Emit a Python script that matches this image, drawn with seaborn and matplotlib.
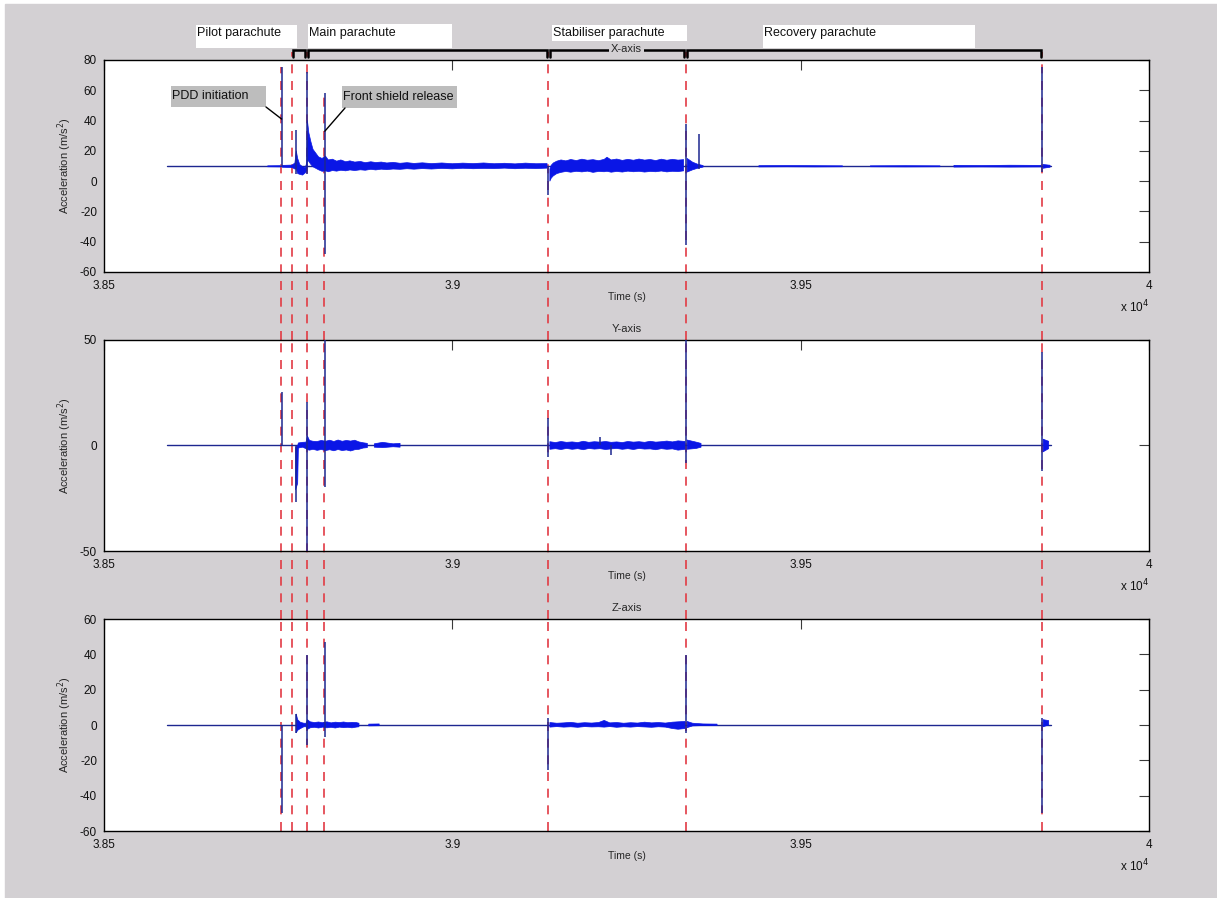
import numpy as np
import matplotlib
matplotlib.use("Agg")
import matplotlib.pyplot as plt
import seaborn as sns
from matplotlib.patches import Rectangle

nan = np.nan

# ---------------------------------------------------------------- data
t_start, t_end = 38590, 39860                      # recording span (s)
events = [38754, 38770, 38791, 38816, 39138, 39335, 39847]

phase_labels = ["Pilot parachute", "Main parachute",
                "Stabiliser parachute", "Recovery parachute"]
phase_bounds = [(38770, 38791), (38791, 39138), (39138, 39335), (39335, 39847)]

x_ticks = [38500, 39000, 39500, 40000]
x_tick_labels = ["3.85", "3.9", "3.95", "4"]

# X-axis channel: baseline, noise envelope (NaN separates bursts), spikes
x_base = 9.8
x_band_t = [38735, 38753, nan,
            38756, 38770, 38774, 38776, 38778, 38781, 38785, 38789, 38791,
            38792, 38794, 38797, 38800, 38804, 38808, 38813, 38818, 38822,
            38828, 38834, 38840, 38847, 38853, 38860, 38868, 38875, 38883,
            38890, 38898, 38906, 38915, 38925, 38935, 38945, 38957, 38970,
            38985, 39000, 39015, 39030, 39045, 39060, 39075, 39090, 39105,
            39120, 39136, nan,
            39140, 39142, 39145, 39150, 39156, 39163, 39170, 39178, 39186,
            39194, 39202, 39210, 39218, 39222, 39228, 39236, 39244, 39252,
            39260, 39268, 39276, 39284, 39292, 39300, 39308, 39316, 39324,
            39332, nan,
            39337, 39345, 39352, 39360, nan,
            39440, 39480, 39520, 39560, nan,
            39600, 39650, 39700, nan,
            39720, 39760, 39800, 39845, nan,
            39848, 39858]
x_band_lo = [9.5, 9.4, nan,
             9.2, 9.0, 8.0, 8.0, 5.0, 4.5, 4.0, 5.5, 7.0,
             14.0, 13.0, 11.0, 9.5, 8.5, 7.5, 6.5, 6.8, 6.2,
             7.0, 6.6, 7.2, 6.8, 7.4, 7.0, 7.5, 7.2, 7.8,
             7.4, 7.9, 7.6, 8.0, 7.8, 8.2, 7.9, 8.3, 8.0,
             8.4, 8.1, 8.5, 8.2, 8.4, 8.3, 8.6, 8.2, 8.5,
             8.3, 8.6, nan,
             0.0, 2.0, 3.5, 5.0, 5.8, 6.4, 5.9, 6.5, 6.1,
             6.6, 5.8, 6.4, 6.2, 6.5, 5.9, 6.4, 6.0, 6.6,
             6.2, 6.5, 6.0, 6.4, 6.2, 6.7, 6.1, 6.5, 6.3,
             6.8, nan,
             6.0, 7.5, 8.5, 9.3, nan,
             9.4, 9.5, 9.4, 9.5, nan,
             9.5, 9.4, 9.5, nan,
             9.3, 9.4, 9.3, 9.4, nan,
             8.5, 9.2]
x_band_hi = [10.1, 10.2, nan,
             10.4, 10.6, 12.0, 20.0, 15.0, 11.0, 9.5, 9.0, 12.0,
             40.0, 32.0, 26.0, 21.0, 18.5, 16.0, 15.0, 16.5, 14.0,
             14.5, 13.2, 14.0, 12.8, 13.4, 12.6, 13.0, 12.2, 12.8,
             12.3, 12.6, 12.0, 12.4, 11.8, 12.2, 11.7, 12.1, 11.6,
             12.0, 11.5, 11.9, 11.6, 12.0, 11.5, 11.8, 11.4, 11.9,
             11.5, 11.6, nan,
             8.0, 10.5, 12.0, 13.2, 14.0, 13.4, 14.3, 13.6, 14.5,
             13.8, 14.2, 13.5, 14.4, 15.8, 14.0, 14.6, 13.7, 14.4,
             13.8, 14.6, 13.9, 14.3, 13.6, 14.5, 13.8, 14.4, 13.9,
             14.2, nan,
             15.0, 12.5, 11.2, 10.3, nan,
             10.2, 10.3, 10.2, 10.1, nan,
             10.1, 10.2, 10.1, nan,
             10.4, 10.3, 10.5, 10.4, nan,
             11.0, 10.5]
x_spike_t = [38755, 38776, 38791, 38817, 39138, 39336, 39354, 39846]
x_spike_lo = [9.8, 5.0, 5.0, -48.0, -9.0, -42.0, 8.0, 6.0]
x_spike_hi = [75.6, 34.0, 72.0, 58.0, 10.0, 38.0, 31.0, 75.6]

# Y-axis channel
y_base = 0.0
y_band_t = [38775, 38778, 38779, 38785, 38790,
            38792, 38795, 38800, 38806, 38812, 38818, 38824, 38830, 38836,
            38842, 38848, 38854, 38860, 38866, 38872, 38878, nan,
            38888, 38900, 38915, 38925, nan,
            39140, 39148, 39156, 39164, 39172, 39180, 39188, 39196, 39204,
            39212, 39220, 39228, 39236, 39244, 39252, 39260, 39268, 39276,
            39284, 39292, 39300, 39308, 39316, 39324, 39334, nan,
            39337, 39350, 39357, nan,
            39848, 39856]
y_band_lo = [-21.0, -18.0, -1.2, -0.8, -1.5,
             -2.0, -2.2, -1.8, -2.3, -1.9, -2.4, -2.0, -2.5, -1.9,
             -2.4, -2.1, -2.6, -2.0, -1.8, -1.2, -1.0, nan,
             -0.8, -1.0, -0.6, -0.8, nan,
             -1.8, -1.5, -1.9, -1.4, -1.8, -1.5, -2.0, -1.4, -1.7,
             -1.5, -1.9, -1.6, -1.4, -1.8, -1.5, -1.9, -1.4, -1.7,
             -1.6, -2.0, -1.5, -1.8, -1.6, -2.2, -1.8, nan,
             -1.8, -1.4, -0.8, nan,
             -3.0, -1.5]
y_band_hi = [-1.0, 0.0, 1.2, 1.5, 1.6,
             4.5, 2.4, 2.0, 1.9, 2.4, 2.0, 2.5, 1.9, 2.6,
             2.0, 2.4, 2.1, 2.5, 1.7, 1.3, 1.0, nan,
             0.8, 1.5, 0.8, 1.0, nan,
             1.8, 1.4, 1.9, 1.5, 1.7, 1.4, 2.0, 1.5, 1.8,
             1.6, 1.9, 1.5, 1.7, 1.4, 1.9, 1.6, 1.8, 1.5,
             2.0, 1.6, 1.8, 2.1, 1.7, 2.2, 1.9, nan,
             2.6, 1.6, 1.0, nan,
             3.0, 2.0]
y_spike_t = [38755, 38776, 38791, 38817, 39138, 39212, 39228, 39336, 39846]
y_spike_lo = [0.0, -27.0, -50.0, -19.5, -5.5, 0.0, -4.5, -8.3, -12.0]
y_spike_hi = [25.5, 0.0, 20.8, 52.0, 13.0, 4.0, 0.0, 52.0, 44.5]

# Z-axis channel
z_base = 0.0
z_band_t = [38776, 38778, 38782, 38787, 38790,
            38792, 38796, 38802, 38808, 38814, 38820, 38826, 38832, 38838,
            38844, 38850, 38856, 38862, 38866, nan,
            38880, 38895, nan,
            39140, 39150, 39160, 39170, 39180, 39190, 39200, 39210, 39218,
            39226, 39236, 39246, 39256, 39266, 39276, 39286, 39296, 39306,
            39316, 39324, 39334, nan,
            39337, 39345, 39360, 39380, nan,
            39848, 39856]
z_band_lo = [-4.4, -3.0, -2.0, -1.0, -1.0,
             -2.5, -1.6, -1.3, -1.7, -1.2, -1.6, -1.3, -1.7, -1.2,
             -1.5, -1.3, -1.6, -1.2, -1.0, nan,
             -0.5, -0.4, nan,
             -1.2, -0.9, -1.2, -1.0, -1.3, -0.9, -1.1, -1.0, -1.2,
             -0.9, -1.3, -1.0, -1.2, -0.9, -1.1, -1.3, -1.0, -1.2,
             -2.0, -2.4, -2.0, nan,
             -1.5, -0.5, -0.3, -0.2, nan,
             -1.0, 0.0]
z_band_hi = [6.2, 3.0, 1.5, 1.0, 1.0,
             3.0, 1.8, 1.4, 1.7, 1.3, 1.8, 1.2, 1.6, 1.4,
             1.7, 1.3, 1.5, 1.4, 1.0, nan,
             0.5, 0.6, nan,
             1.4, 1.0, 1.2, 1.5, 1.0, 1.3, 1.1, 1.4, 2.6,
             1.2, 1.4, 1.0, 1.3, 1.1, 1.6, 1.2, 1.4, 1.1,
             1.6, 1.8, 2.0, nan,
             2.0, 1.0, 0.6, 0.5, nan,
             3.0, 2.5]
z_spike_t = [38755, 38776, 38791, 38817, 39138, 39336, 39846]
z_spike_lo = [-50.0, -4.4, -11.3, -6.6, -25.5, -4.5, -50.0]
z_spike_hi = [0.0, 6.2, 39.6, 47.0, 3.8, 39.6, 4.0]

# ---------------------------------------------------------------- style
sns.set_style("white")
plt.rcParams["font.family"] = ["Liberation Sans", "DejaVu Sans"]
plt.rcParams["axes.unicode_minus"] = False

FIG_W, FIG_H = 1217, 898
GREY = "#d3d0d3"
LINE = "#1d2790"
BAND = "#0a16e6"
RED = "#e23a44"
DASH = (0, (5.4, 4.6))

fig = plt.figure(figsize=(FIG_W / 100, FIG_H / 100), dpi=100, facecolor="white")
fig.add_artist(Rectangle((5 / FIG_W, 0), 1 - 5 / FIG_W, 1 - 4 / FIG_H,
                         transform=fig.transFigure, color=GREY, zorder=-10))

LEFT, RIGHT = 104, 1149
AX_W = RIGHT - LEFT
PANELS = [(60, 272), (340, 551), (619, 831)]   # top / bottom edges in pixels


def px_axes(top, bottom):
    return fig.add_axes([LEFT / FIG_W, 1 - bottom / FIG_H,
                         AX_W / FIG_W, (bottom - top) / FIG_H])


def draw_channel(ax, base, bt, blo, bhi, st, slo, shi, ylim, yticks, title):
    h = ax.get_position().height * FIG_H
    sns.lineplot(x=[t_start, t_end], y=[base, base], ax=ax, color=LINE,
                 lw=1.0, zorder=2)
    ax.fill_between(bt, blo, bhi, color=BAND, edgecolor=BAND, lw=0.5,
                    zorder=2)
    ax.vlines(st, slo, shi, color=LINE, lw=1.1, zorder=3)
    ax.set_xlim(38500, 40000)
    ax.set_ylim(*ylim)
    ax.set_xticks(x_ticks)
    ax.set_xticklabels(x_tick_labels)
    ax.set_yticks(yticks)
    ax.set_yticklabels([str(v) for v in yticks])
    ax.set_facecolor("white")
    for sp in ax.spines.values():
        sp.set_color("black")
        sp.set_linewidth(1.0)
    ax.tick_params(direction="in", length=7, width=0.8, color="#3a3a3a",
                   top=True, right=True, labelsize=8.5, pad=5,
                   labelcolor="#111111")
    ax.tick_params(axis="x", pad=6)
    ax.set_xlabel("Time (s)", fontsize=7.5, va="center")
    ax.xaxis.set_label_coords(0.5, -25 / h)
    ax.set_ylabel("Acceleration (m/s$^2$)", fontsize=8, va="center")
    ax.yaxis.set_label_coords(-39 / AX_W, 0.5)
    ax.text(1.0, -35 / h, "x 10$^{4}$", transform=ax.transAxes, ha="right",
            va="center", fontsize=8.5, color="#111111")
    ax.text(0.5, 1 + 11 / h, title, transform=ax.transAxes, ha="center",
            va="center", fontsize=8, zorder=6,
            bbox=dict(facecolor=GREY, edgecolor="none", pad=1.5))


axes = [px_axes(*p) for p in PANELS]
ax_x, ax_y, ax_z = axes

draw_channel(ax_x, x_base, x_band_t, x_band_lo, x_band_hi,
             x_spike_t, x_spike_lo, x_spike_hi, (-60, 80),
             list(range(-60, 81, 20)), "X-axis")
draw_channel(ax_y, y_base, y_band_t, y_band_lo, y_band_hi,
             y_spike_t, y_spike_lo, y_spike_hi, (-50, 50),
             [-50, 0, 50], "Y-axis")
draw_channel(ax_z, z_base, z_band_t, z_band_lo, z_band_hi,
             z_spike_t, z_spike_lo, z_spike_hi, (-60, 60),
             list(range(-60, 61, 20)), "Z-axis")

# ---------------------------------------------------------------- event lines
# each panel draws its own stretch (under the trace) plus the gap below it
for k, ax in enumerate(axes):
    top, bottom = PANELS[k]
    h = bottom - top
    gap = (PANELS[k + 1][0] - bottom) / h if k < 2 else 0.0
    for i, ev in enumerate(events):
        ymax = 1.0
        if k == 0:
            if i in (0, 3):
                lo, hi = ax.get_ylim()
                ymax = (x_spike_hi[i] - lo) / (hi - lo)
            else:
                ymax = 1 + 8 / h
        ax.axvline(ev, ymin=-gap, ymax=ymax, color=RED, lw=1.2,
                   linestyle=DASH, clip_on=False, zorder=1.5)

# phase brackets just above the X-axis panel
h_top = PANELS[0][1] - PANELS[0][0]
bt = ax_x.get_xaxis_transform()
for (a, b) in phase_bounds:
    ax_x.plot([a + 2, a + 2, b - 2, b - 2],
              [1 + 3 / h_top, 1 + 10 / h_top, 1 + 10 / h_top, 1 + 3 / h_top],
              transform=bt, color="black", lw=1.8, clip_on=False, zorder=4,
              solid_joinstyle="miter")

# phase labels in white boxes
label_boxes = [(196, 297, 25, 48), (308, 452, 24, 48),
               (552, 687, 25, 41), (763, 975, 25, 48)]
for lab, (x0, x1, y0, y1) in zip(phase_labels, label_boxes):
    fig.add_artist(Rectangle((x0 / FIG_W, 1 - y1 / FIG_H), (x1 - x0) / FIG_W,
                             (y1 - y0) / FIG_H, transform=fig.transFigure,
                             facecolor="white", edgecolor="none", zorder=3))
    fig.text((x0 + 1) / FIG_W, 1 - 33 / FIG_H, lab, fontsize=9,
             ha="left", va="center", zorder=7, color="#111111")

# event notes inside the X-axis panel
notes = [("PDD initiation", (171, 266, 86, 107), x_spike_t[0], 41, (266, 107)),
         ("Front shield release", (342, 457, 86, 108), x_spike_t[3], 33, (345, 108))]
for text, (x0, x1, y0, y1), ev, val, (lx, ly) in notes:
    ax_x.add_patch(Rectangle(((x0 - LEFT) / AX_W, (272 - y1) / h_top),
                             (x1 - x0) / AX_W, (y1 - y0) / h_top,
                             transform=ax_x.transAxes, facecolor="#bdbdbd",
                             edgecolor="none", zorder=3))
    ax_x.text((x0 + 1 - LEFT) / AX_W, (272 - (y0 + y1) / 2) / h_top, text,
              transform=ax_x.transAxes, fontsize=9, ha="left", va="center",
              zorder=4, color="#111111")
    ax_x.annotate("", xy=(ev, val), xycoords="data",
                  xytext=((lx - LEFT) / AX_W, (272 - ly) / h_top),
                  textcoords="axes fraction",
                  arrowprops=dict(arrowstyle="-", color="black", lw=1.0,
                                  shrinkA=0, shrinkB=0), zorder=4)

fig.savefig("out.png", dpi=100, facecolor=fig.get_facecolor())
